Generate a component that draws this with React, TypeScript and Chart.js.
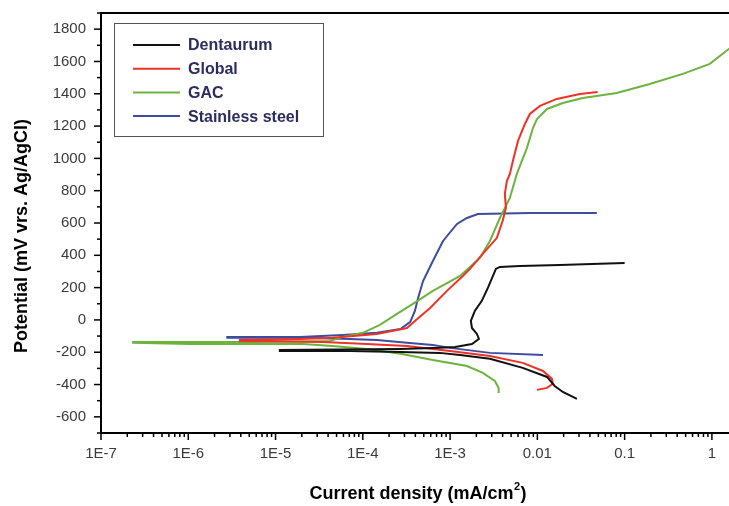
import React, { useEffect, useRef } from 'react';
import { Chart, registerables } from 'chart.js';

Chart.register(...registerables);

// ---- data (current density in mA/cm2, potential in mV vs Ag/AgCl) ----
const seriesNames = ['Dentaurum', 'Global', 'GAC', 'Stainless steel'];
const seriesColors = ['#111111', '#ee3226', '#6cb33f', '#3d4c9c'];

const dentaurumCathodicCurrent = [0.0284, 0.0196, 0.0158, 0.0129, 0.0068, 0.00286, 0.0013, 0.00076, 0.00027, 0.000071, 0.0000112];
const dentaurumCathodicPotential = [-489, -446, -409, -353, -297, -241, -217, -204, -198, -192, -192];
const dentaurumAnodicCurrent = [0.0000112, 0.00027, 0.00076, 0.00114, 0.00178, 0.00214, 0.00203, 0.00178, 0.00173, 0.00192, 0.00231, 0.00271, 0.00335, 0.00372, 0.0063, 0.0181, 0.052, 0.1];
const dentaurumAnodicPotential = [-186, -180, -173, -167, -149, -118, -87, -50, -6, 56, 118, 198, 316, 328, 334, 340, 347, 353];

const globalCathodicCurrent = [0.0099, 0.0129, 0.015, 0.0147, 0.0116, 0.0068, 0.00286, 0.001, 0.00032, 0.000111, 0.000035, 0.0000039];
const globalCathodicPotential = [-433, -421, -396, -365, -316, -266, -223, -192, -161, -149, -136, -130];
const globalAnodicCurrent = [0.0000039, 0.000019, 0.000045, 0.000145, 0.00032, 0.00042, 0.00059, 0.00092, 0.0014, 0.00169, 0.00237, 0.00344, 0.004, 0.00436, 0.00424, 0.00447, 0.00484, 0.00524, 0.006, 0.0072, 0.0082, 0.0107, 0.0167, 0.0307, 0.049];
const globalAnodicPotential = [-124, -118, -111, -87, -50, 6, 74, 180, 272, 316, 409, 508, 613, 693, 780, 860, 904, 984, 1108, 1213, 1275, 1325, 1368, 1399, 1411];

const gacCathodicCurrent = [0.0036, 0.0036, 0.00326, 0.00237, 0.00156, 0.001, 0.000635, 0.00027, 0.000111, 0.000045, 0.0000206, 0.00000105, 0.000000233];
const gacCathodicPotential = [-452, -421, -378, -328, -285, -266, -248, -210, -180, -161, -149, -149, -142];
const gacAnodicCurrent = [0.000000233, 0.0000051, 0.000042, 0.000059, 0.0001, 0.000157, 0.000246, 0.000375, 0.000635, 0.0013, 0.00219, 0.00286, 0.00372, 0.00484, 0.00582, 0.0076, 0.0089, 0.0099, 0.0129, 0.0196, 0.0332, 0.081, 0.194, 0.464, 0.946, 1.56, 2.4];
const gacAnodicPotential = [-136, -136, -130, -105, -80, -31, 37, 99, 180, 272, 384, 489, 631, 755, 904, 1065, 1188, 1244, 1306, 1343, 1374, 1405, 1461, 1523, 1585, 1677, 1727];

const steelCathodicCurrent = [0.0116, 0.00286, 0.001, 0.000635, 0.00032, 0.000145, 0.000071, 0.000019, 0.0000028];
const steelCathodicPotential = [-217, -204, -173, -155, -142, -124, -118, -111, -111];
const steelAnodicCurrent = [0.0000028, 0.000019, 0.000059, 0.000145, 0.00027, 0.00035, 0.000395, 0.00043, 0.00049, 0.000635, 0.00083, 0.0012, 0.00156, 0.00208, 0.0082, 0.048];
const steelAnodicPotential = [-105, -105, -93, -80, -56, -12, 56, 136, 241, 365, 489, 594, 631, 656, 662, 662];

const xTickValues = [1e-7, 1e-6, 1e-5, 1e-4, 1e-3, 0.01, 0.1, 1];
const xTickLabels = ['1E-7', '1E-6', '1E-5', '1E-4', '1E-3', '0.01', '0.1', '1'];
const yTickValues = [-600, -400, -200, 0, 200, 400, 600, 800, 1000, 1200, 1400, 1600, 1800];
const xMin = 1e-7;
const xMax = 1.57;
const yMin = -700;
const yMax = 1900;

const xTitle = 'Current density (mA/cm';
const xTitleSup = '2';
const xTitleEnd = ')';
const yTitle = 'Potential (mV vrs. Ag/AgCl)';

const FONT = "'Liberation Sans', Arial, Helvetica, sans-serif";

function toPoints(c1: number[], p1: number[], c2: number[], p2: number[]) {
  const pts: { x: number; y: number }[] = [];
  c1.forEach((c, i) => pts.push({ x: c, y: p1[i] }));
  c2.forEach((c, i) => pts.push({ x: c, y: p2[i] }));
  return pts;
}

const seriesPoints = [
  toPoints(dentaurumCathodicCurrent, dentaurumCathodicPotential, dentaurumAnodicCurrent, dentaurumAnodicPotential),
  toPoints(globalCathodicCurrent, globalCathodicPotential, globalAnodicCurrent, globalAnodicPotential),
  toPoints(gacCathodicCurrent, gacCathodicPotential, gacAnodicCurrent, gacAnodicPotential),
  toPoints(steelCathodicCurrent, steelCathodicPotential, steelAnodicCurrent, steelAnodicPotential),
];

const decorPlugin = {
  id: 'decor',
  afterDraw(chart: any) {
    const { ctx, chartArea: ca, scales } = chart;
    const x = scales.x;
    const y = scales.y;
    ctx.save();
    ctx.strokeStyle = '#000';
    // top frame line
    ctx.lineWidth = 2;
    ctx.beginPath();
    ctx.moveTo(ca.left - 1, ca.top);
    ctx.lineTo(ca.right, ca.top);
    ctx.stroke();

    // x ticks (major + minor)
    ctx.lineWidth = 1.5;
    for (let e = -7; e <= 0; e++) {
      for (let m = 1; m <= 9; m++) {
        const v = m * Math.pow(10, e);
        if (v > x.max) continue;
        const px = x.getPixelForValue(v);
        const len = m === 1 ? 7 : 4;
        ctx.beginPath();
        ctx.moveTo(px, ca.bottom);
        ctx.lineTo(px, ca.bottom + len);
        ctx.stroke();
      }
    }
    // y ticks (major + minor)
    for (let v = yMin; v <= yMax; v += 100) {
      const py = y.getPixelForValue(v);
      const len = v % 200 === 0 ? 7 : 4;
      ctx.beginPath();
      ctx.moveTo(ca.left, py);
      ctx.lineTo(ca.left - len, py);
      ctx.stroke();
    }

    // axis titles
    ctx.fillStyle = '#000';
    ctx.font = `bold 18px ${FONT}`;
    ctx.textBaseline = 'middle';
    ctx.save();
    ctx.translate(22, 236);
    ctx.rotate(-Math.PI / 2);
    ctx.textAlign = 'center';
    ctx.fillText(yTitle, 0, 0);
    ctx.restore();

    ctx.textAlign = 'left';
    ctx.font = `bold 18px ${FONT}`;
    const w1 = ctx.measureText(xTitle).width;
    const w3 = ctx.measureText(xTitleEnd).width;
    ctx.font = `bold 11px ${FONT}`;
    const w2 = ctx.measureText(xTitleSup).width;
    const total = w1 + w2 + w3 + 1;
    let sx = 418 - total / 2;
    const ty = 494;
    ctx.font = `bold 18px ${FONT}`;
    ctx.fillText(xTitle, sx, ty);
    sx += w1;
    ctx.font = `bold 11px ${FONT}`;
    ctx.fillText(xTitleSup, sx + 0.5, ty - 7);
    sx += w2 + 1;
    ctx.font = `bold 18px ${FONT}`;
    ctx.fillText(xTitleEnd, sx, ty);

    // legend box
    const lx = 114, ly = 23, lw = 209, lh = 113;
    ctx.fillStyle = '#fff';
    ctx.fillRect(lx, ly, lw, lh);
    ctx.lineWidth = 1;
    ctx.strokeStyle = '#555';
    ctx.strokeRect(lx + 0.5, ly + 0.5, lw, lh);
    ctx.font = `bold 16px ${FONT}`;
    ctx.textBaseline = 'middle';
    chart.data.datasets.forEach((ds: any, i: number) => {
      const rowY = 45 + i * 23.7;
      ctx.strokeStyle = ds.borderColor;
      ctx.lineWidth = 2;
      ctx.beginPath();
      ctx.moveTo(133, rowY);
      ctx.lineTo(180, rowY);
      ctx.stroke();
      ctx.fillStyle = '#2c2c5e';
      ctx.fillText(ds.label, 188, rowY + 1);
    });
    ctx.restore();
  },
};

export default function App() {
  const canvasRef = useRef<HTMLCanvasElement | null>(null);

  useEffect(() => {
    const canvas = canvasRef.current;
    if (!canvas) return;
    const chart = new Chart(canvas, {
      type: 'scatter',
      data: {
        datasets: seriesNames.map((name, i) => ({
          label: name,
          data: seriesPoints[i],
          showLine: true,
          borderColor: seriesColors[i],
          backgroundColor: seriesColors[i],
          borderWidth: 2,
          pointRadius: 0,
          tension: 0,
        })),
      },
      options: {
        animation: false,
        responsive: false,
        devicePixelRatio: 1,
        layout: { padding: { top: 13, right: 0, left: 0, bottom: 0 } },
        plugins: {
          legend: { display: false },
          tooltip: { enabled: false },
        },
        scales: {
          x: {
            type: 'logarithmic',
            min: xMin,
            max: xMax,
            afterBuildTicks: (scale: any) => {
              scale.ticks = xTickValues.map((v) => ({ value: v }));
            },
            afterFit: (scale: any) => {
              scale.height = 73;
              scale.paddingLeft = 0;
              scale.paddingRight = 0;
            },
            ticks: {
              autoSkip: false,
              maxRotation: 0,
              padding: 12,
              color: '#3a3a3a',
              font: { family: FONT, size: 15 },
              callback: (value: any) => {
                const idx = xTickValues.findIndex((t) => Math.abs(Math.log10(t) - Math.log10(Number(value))) < 1e-6);
                return idx >= 0 ? xTickLabels[idx] : '';
              },
            },
            grid: { display: false, drawTicks: false, tickLength: 0 },
            border: { display: true, color: '#000', width: 2 },
          },
          y: {
            type: 'linear',
            min: yMin,
            max: yMax,
            afterBuildTicks: (scale: any) => {
              scale.ticks = yTickValues.map((v) => ({ value: v }));
            },
            afterFit: (scale: any) => {
              scale.width = 101;
              scale.paddingTop = 0;
              scale.paddingBottom = 0;
            },
            ticks: {
              padding: 15,
              color: '#3a3a3a',
              font: { family: FONT, size: 15 },
              callback: (value: any) => String(value),
            },
            grid: { display: false, drawTicks: false, tickLength: 0 },
            border: { display: true, color: '#000', width: 2 },
          },
        },
      },
      plugins: [decorPlugin],
    });
    return () => chart.destroy();
  }, []);

  return (
    <div style={{ position: 'absolute', left: 0, top: 0, width: 729, height: 506, overflow: 'hidden', background: '#fff' }}>
      <canvas ref={canvasRef} width={729} height={506} style={{ display: 'block' }} />
    </div>
  );
}
